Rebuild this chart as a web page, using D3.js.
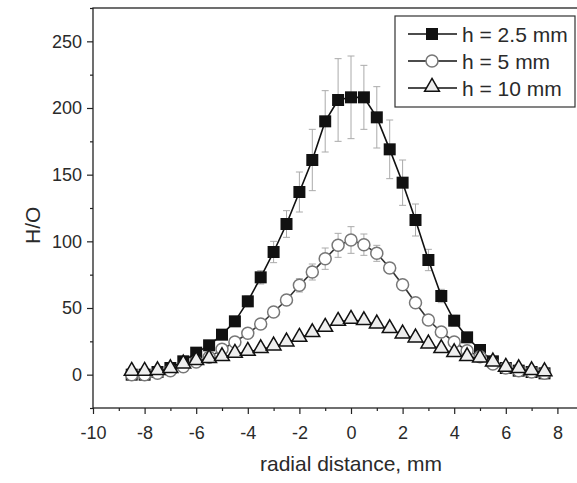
<!DOCTYPE html>
<html lang="en">
<head>
	<meta charset="UTF-8">
	<title>H/O radial profile</title>
	<script src="https://cdn.jsdelivr.net/npm/d3@7"></script>
	<style>
		body { margin: 0; background: #fff; }
		text { font-family: "Liberation Sans", Arial, sans-serif; fill: #2a2a2a; }
	</style>
</head>
<body>
	<svg id="svg"></svg>
	<script>
		// radial positions, mm
		var xs = [-8.5,-8,-7.5,-7,-6.5,-6,-5.5,-5,-4.5,-4,-3.5,-3,-2.5,-2,-1.5,-1,-0.5,
			0,0.5,1,1.5,2,2.5,3,3.5,4,4.5,5,5.5,6,6.5,7,7.5];

		var h25 = [0,0,2,5,10,16.5,22,30,40,55,73,92,113,137,161,190,206,
			208,208,193,169,144,116,86,59,40.5,28,18.5,10,5,3,2,1];
		var h25err = [1,1,1,1,2,2,3,3,3,4,5,8,10,15,23,23,31,
			31,24,23,22,17,12,8,5,4,3,2,2,1,1,1,1];

		var h5 = [0,0,1,3,6,9.5,13,19,24.5,31,38,47,56,67,77,87,97,
			101,97.5,91,80,67.5,54,41,32,24.5,18,13.5,8,5,3,2,1];
		var h5err = [1,1,1,1,1,2,2,3,3,3,3,3,4,5,6,8,9,
			10,8,6,4,3,3,3,3,3,2,2,2,1,1,1,1];

		var h10 = [2,2,2.5,4,7.5,10,11.5,13,15.5,17,19,21,24,27.5,31,35,39.5,
			41,40,37.5,34,30,27,22.5,19,16,13,12,9,5,4,2.5,1.7];
		var h10err = [1.5,1.5,1.5,1.5,1.5,1.5,1.5,1.5,2,2,2,2,2,2,2,2,2,
			2,2,2,2,2,2,2,2,2,2,2,2,1.5,1.5,1.5,1.5];

		var xTicks = [-10,-8,-6,-4,-2,0,2,4,6,8];
		var yTicks = [0,50,100,150,200,250];
		var legendLabels = ["h = 2.5 mm", "h = 5 mm", "h = 10 mm"];

		var w = 577, h = 483;
		var svg = d3.select("#svg").attr("width", w).attr("height", h);

		var x = d3.scaleLinear().domain([-10, 10]).range([93, 609]);
		var y = d3.scaleLinear().domain([-25, 275]).range([408, 8]);

		// frame (right side runs off the picture)
		svg.append("rect")
			.attr("x", x(-10)).attr("y", y(275))
			.attr("width", x(10) - x(-10)).attr("height", y(-25) - y(275))
			.attr("fill", "none").attr("stroke", "#222").attr("stroke-width", 1.3);

		// axes
		var xAxis = svg.append("g").attr("transform", "translate(0," + y(-25) + ")")
			.call(d3.axisBottom(x).tickValues(xTicks).tickSize(6).tickPadding(12)
				.tickFormat(d3.format("d")));
		var xMinor = svg.append("g").attr("transform", "translate(0," + y(-25) + ")")
			.call(d3.axisBottom(x).tickValues(d3.range(-9, 10, 2)).tickSize(3).tickFormat(""));
		var yAxis = svg.append("g").attr("transform", "translate(" + x(-10) + ",0)")
			.call(d3.axisLeft(y).tickValues(yTicks).tickSize(6).tickPadding(5));
		var yMinor = svg.append("g").attr("transform", "translate(" + x(-10) + ",0)")
			.call(d3.axisLeft(y).tickValues([-25,25,75,125,175,225,275]).tickSize(3).tickFormat(""));

		[xAxis, xMinor, yAxis, yMinor].forEach(function(g) {
			g.select(".domain").remove();
			g.selectAll("line").attr("stroke", "#222").attr("stroke-width", 1.2);
			g.selectAll("text").style("font-size", "18px").attr("fill", "#2a2a2a")
				.style("font-family", "'Liberation Sans', Arial, sans-serif");
		});
		xAxis.selectAll("text").text(function(d) { return d < 0 ? "-" + Math.abs(d) : d; });

		svg.append("text")
			.attr("x", x(0)).attr("y", 471)
			.attr("text-anchor", "middle").style("font-size", "21px")
			.text("radial distance, mm");
		svg.append("text")
			.attr("transform", "translate(40," + y(112) + ") rotate(-90)")
			.attr("text-anchor", "middle").style("font-size", "21px")
			.text("H/O");

		var series = [
			{ v: h25, e: h25err, kind: "square" },
			{ v: h5, e: h5err, kind: "circle" },
			{ v: h10, e: h10err, kind: "triangle" }
		];

		var plot = svg.append("g");

		// error bars
		series.forEach(function(s) {
			var g = plot.append("g").attr("stroke", "#aaa").attr("stroke-width", 1);
			xs.forEach(function(xv, i) {
				var top = y(s.v[i] + s.e[i]), bot = y(s.v[i] - s.e[i]), cx = x(xv);
				g.append("line").attr("x1", cx).attr("x2", cx).attr("y1", top).attr("y2", bot);
				g.append("line").attr("x1", cx - 3.5).attr("x2", cx + 3.5).attr("y1", top).attr("y2", top);
				g.append("line").attr("x1", cx - 3.5).attr("x2", cx + 3.5).attr("y1", bot).attr("y2", bot);
			});
		});

		var line = d3.line().x(function(d) { return x(d[0]); }).y(function(d) { return y(d[1]); });

		function drawMarker(g, kind, cx, cy) {
			if (kind === "square") {
				g.append("rect").attr("x", cx - 6).attr("y", cy - 6)
					.attr("width", 12).attr("height", 12).attr("fill", "#111");
			} else if (kind === "circle") {
				g.append("circle").attr("cx", cx).attr("cy", cy).attr("r", 6)
					.attr("fill", "#fff").attr("stroke", "#777").attr("stroke-width", 1.5);
			} else {
				g.append("path")
					.attr("d", d3.symbol().type(d3.symbolTriangle).size(95)())
					.attr("transform", "translate(" + cx + "," + (cy - 1) + ")")
					.attr("fill", "#eee").attr("stroke", "#111").attr("stroke-width", 1.5);
			}
		}

		series.forEach(function(s) {
			var pts = xs.map(function(xv, i) { return [xv, s.v[i]]; });
			plot.append("path").datum(pts).attr("d", line)
				.attr("fill", "none")
				.attr("stroke", s.kind === "circle" ? "#333" : "#111")
				.attr("stroke-width", 1.6);
			var g = plot.append("g");
			pts.forEach(function(p) { drawMarker(g, s.kind, x(p[0]), y(p[1])); });
		});

		// legend
		var lg = svg.append("g");
		lg.append("rect").attr("x", 395).attr("y", 16).attr("width", 180).attr("height", 91)
			.attr("fill", "#fff").attr("stroke", "#333").attr("stroke-width", 1.2);
		legendLabels.forEach(function(lab, i) {
			var ly = 34 + i * 27;
			lg.append("line").attr("x1", 408).attr("x2", 457).attr("y1", ly).attr("y2", ly)
				.attr("stroke", "#111").attr("stroke-width", 1.6);
			drawMarker(lg, series[i].kind, 432, ly);
			lg.append("text").attr("x", 462).attr("y", ly + 7.5)
				.style("font-size", "21px").text(lab);
		});
	</script>
</body>
</html>
